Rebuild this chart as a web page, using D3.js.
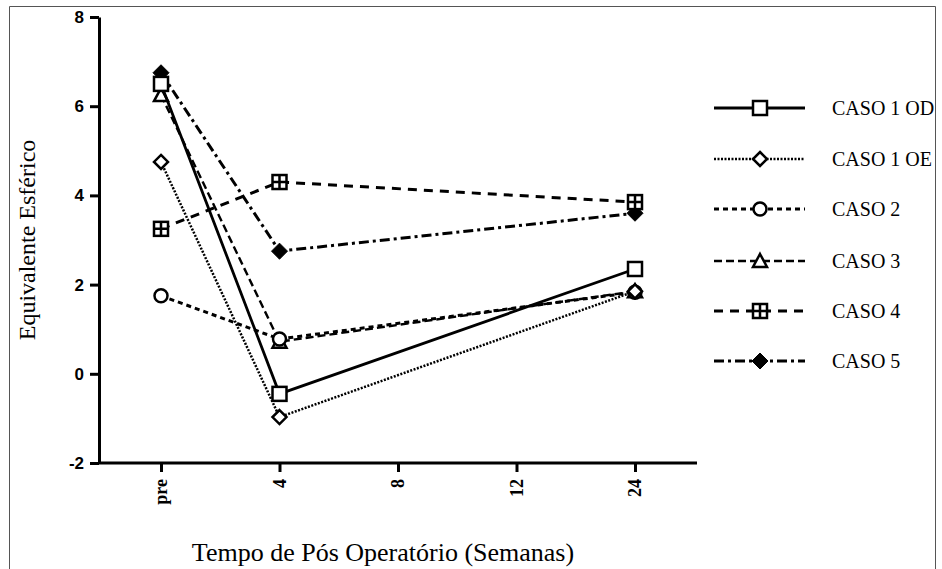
<!DOCTYPE html>
<html>
<head>
<meta charset="utf-8">
<script src="https://cdn.jsdelivr.net/npm/d3@7"></script>
<style>
  body { margin: 0; background: #fff; }
  svg { display: block; }
</style>
</head>
<body>
<div id="chart"></div>
<script>
// data
const xTicks = ['pre', '4', '8', '12', '24'];
const weeks = ['pre', '4', '24'];
const yTicks = [-2, 0, 2, 4, 6, 8];

const seriesNames = ['CASO 1 OD', 'CASO 1 OE', 'CASO 2', 'CASO 3', 'CASO 4', 'CASO 5'];
const caso1OD = [6.5, -0.45, 2.35];
const caso1OE = [4.75, -0.97, 1.85];
const caso2 = [1.75, 0.78, 1.83];
const caso3 = [6.25, 0.72, 1.85];
const caso4 = [3.25, 4.3, 3.85];
const caso5 = [6.75, 2.75, 3.6];

const seriesValues = [caso1OD, caso1OE, caso2, caso3, caso4, caso5];
const markerTypes = ['square', 'diamond', 'circle', 'triangle', 'gridsquare', 'filldiamond'];
const dashes = ['none', '2,1.5', '5,4', '8,4', '9,7', '10,4,3,4'];
const widths = [2.8, 2.5, 3, 2.4, 3, 3];

const SERIF = '"Liberation Serif", "Times New Roman", serif';
const SANS = '"Liberation Sans", Arial, sans-serif';

const width = 942, height = 569;

const svg = d3.select('#chart').append('svg')
    .attr('width', width)
    .attr('height', height);

// scanned page frame
svg.append('path')
    .attr('d', 'M9.5,' + height + ' V6.5 H935.5 V' + height)
    .attr('fill', 'none')
    .attr('stroke', '#555')
    .attr('stroke-width', 1);

const x = d3.scalePoint().domain(xTicks).range([161, 635]);
const y = d3.scaleLinear().domain([-2, 8]).range([463, 17]);

// y axis
const yAxis = svg.append('g')
    .attr('transform', 'translate(99,0)')
    .call(d3.axisLeft(y).tickValues(yTicks).tickFormat(d => String(d))
        .tickSize(9).tickSizeOuter(0).tickPadding(6));
yAxis.select('.domain').attr('stroke', '#000').attr('stroke-width', 3);
yAxis.selectAll('.tick line').attr('stroke', '#000').attr('stroke-width', 3);
yAxis.selectAll('.tick text')
    .style('font-family', SANS)
    .style('font-weight', 'bold')
    .style('font-size', '17px')
    .attr('fill', '#000');

// x axis
const xAxis = svg.append('g')
    .attr('transform', 'translate(0,463)')
    .call(d3.axisBottom(x).tickSize(9).tickSizeOuter(0));
xAxis.select('.domain').attr('d', 'M99,0H697').attr('stroke', '#000').attr('stroke-width', 3);
xAxis.selectAll('.tick line').attr('stroke', '#000').attr('stroke-width', 3);
xAxis.selectAll('.tick text')
    .style('font-family', SERIF)
    .style('font-weight', 'bold')
    .style('font-size', '18px')
    .attr('fill', '#000')
    .attr('text-anchor', 'end')
    .attr('transform', 'rotate(-90)')
    .attr('x', -16)
    .attr('y', 0)
    .attr('dy', '0.32em');

// axis titles
svg.append('text')
    .attr('transform', 'translate(35,240) rotate(-90)')
    .attr('text-anchor', 'middle')
    .style('font-family', SERIF)
    .style('font-size', '24px')
    .text('Equivalente Esférico');

svg.append('text')
    .attr('x', 383)
    .attr('y', 561)
    .attr('text-anchor', 'middle')
    .style('font-family', SERIF)
    .style('font-size', '26px')
    .text('Tempo de Pós Operatório (Semanas)');

function drawMarker(g, type, cx, cy) {
    const m = g.append('g').attr('transform', 'translate(' + cx + ',' + cy + ')');
    if (type === 'square') {
        m.append('rect').attr('x', -7).attr('y', -7).attr('width', 14).attr('height', 14)
            .attr('fill', '#fff').attr('stroke', '#000').attr('stroke-width', 2.5);
    } else if (type === 'diamond') {
        m.append('path').attr('d', 'M0,-7L7,0L0,7L-7,0Z')
            .attr('fill', '#fff').attr('stroke', '#000').attr('stroke-width', 2.5);
    } else if (type === 'circle') {
        m.append('circle').attr('r', 6.5)
            .attr('fill', '#fff').attr('stroke', '#000').attr('stroke-width', 2.5);
    } else if (type === 'triangle') {
        m.append('path').attr('d', 'M0,-7L7,6L-7,6Z')
            .attr('fill', '#fff').attr('stroke', '#000').attr('stroke-width', 2.5);
    } else if (type === 'gridsquare') {
        m.append('rect').attr('x', -7).attr('y', -7).attr('width', 14).attr('height', 14)
            .attr('fill', '#fff').attr('stroke', '#000').attr('stroke-width', 2.5);
        m.append('path').attr('d', 'M0,-7V7M-7,0H7')
            .attr('stroke', '#000').attr('stroke-width', 2.5);
    } else if (type === 'filldiamond') {
        m.append('path').attr('d', 'M0,-8L8,0L0,8L-8,0Z')
            .attr('fill', '#000').attr('stroke', '#000').attr('stroke-width', 1);
    }
}

const line = d3.line()
    .x(d => x(d.week))
    .y(d => y(d.value));

// draw last series first so CASO 1 OD ends up on top
const plot = svg.append('g');
for (let i = seriesNames.length - 1; i >= 0; i--) {
    const pts = weeks.map((w, j) => ({ week: w, value: seriesValues[i][j] }));
    plot.append('path')
        .datum(pts)
        .attr('d', line)
        .attr('fill', 'none')
        .attr('stroke', '#000')
        .attr('stroke-width', widths[i])
        .attr('stroke-dasharray', dashes[i]);
    pts.forEach(p => drawMarker(plot, markerTypes[i], x(p.week), y(p.value)));
}

// legend
const legendY = [108, 159, 209, 261, 311, 361];
const legend = svg.append('g');
seriesNames.forEach((name, i) => {
    legend.append('line')
        .attr('x1', 714).attr('x2', 805)
        .attr('y1', legendY[i]).attr('y2', legendY[i])
        .attr('stroke', '#000')
        .attr('stroke-width', widths[i])
        .attr('stroke-dasharray', dashes[i]);
    drawMarker(legend, markerTypes[i], 760, legendY[i]);
    legend.append('text')
        .attr('x', 832)
        .attr('y', legendY[i])
        .attr('dy', '0.35em')
        .style('font-family', SERIF)
        .style('font-size', '20px')
        .text(name);
});
</script>
</body>
</html>
